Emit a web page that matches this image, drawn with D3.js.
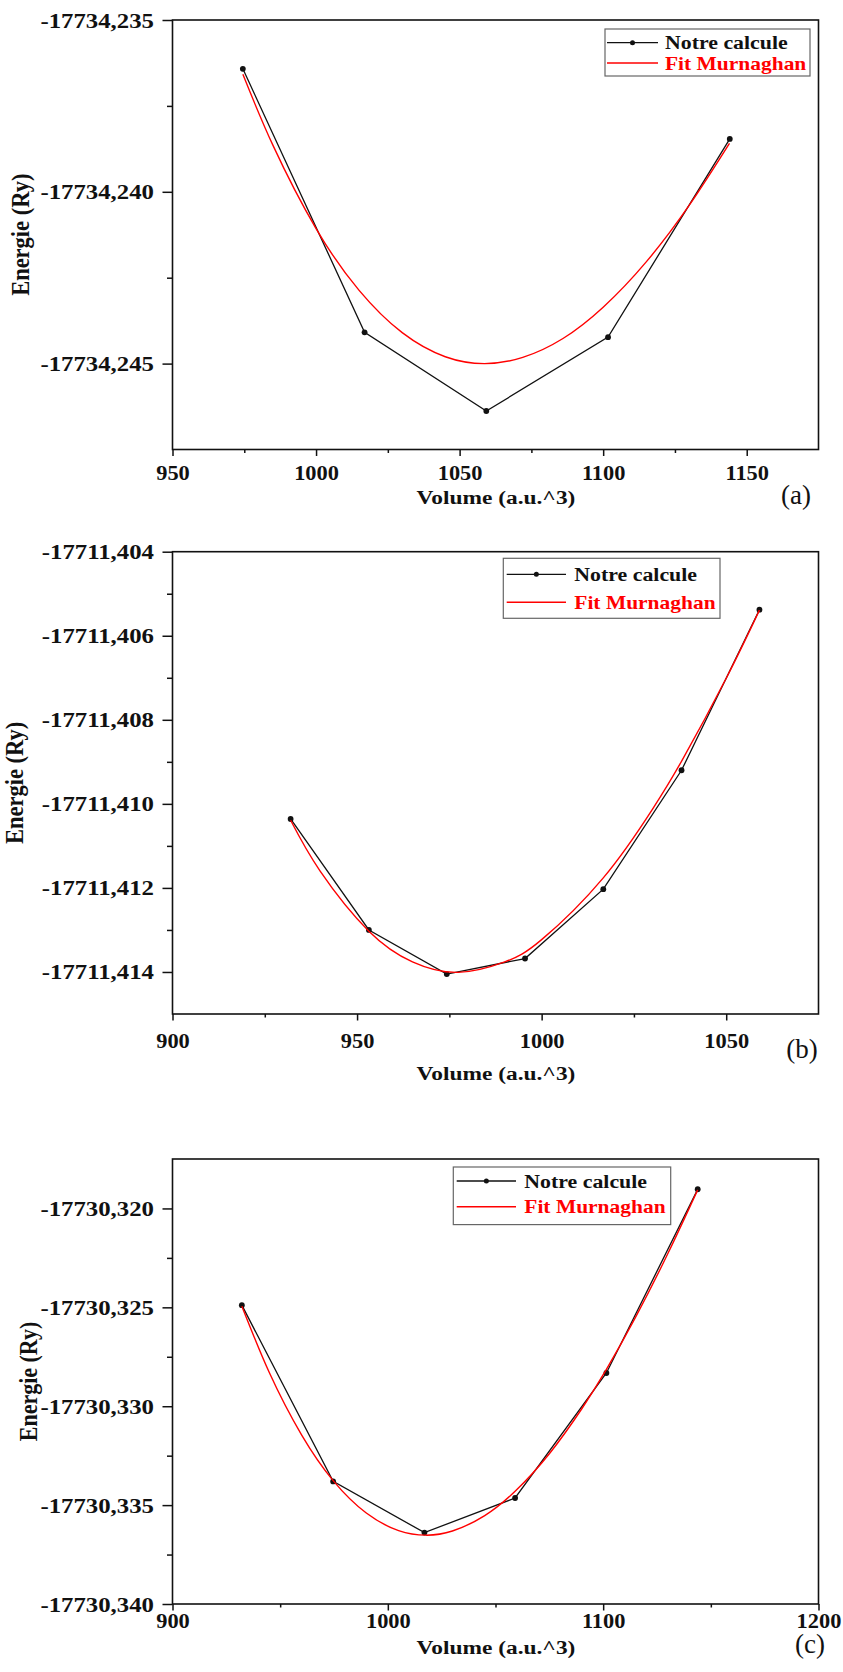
<!DOCTYPE html>
<html>
<head>
<meta charset="utf-8">
<script src="https://cdn.jsdelivr.net/npm/d3@7"></script>
<style>
  html, body { margin: 0; padding: 0; background: #fff; }
  svg { display: block; }
  text { font-family: "Liberation Serif", "Times New Roman", serif; }
</style>
</head>
<body>
<svg id="chart" width="843" height="1672"></svg>
<script>
// ---- Panel (a) ----
const volA = [974.5, 1016.9, 1059.3, 1101.7, 1144.1];
const energyA = [-17734.23642, -17734.24409, -17734.24638, -17734.24423, -17734.23846];
const fitVolA = [974.5, 985, 1000, 1015, 1030, 1045, 1058.7, 1072, 1086, 1100, 1115, 1130, 1144];
const fitEnergyA = [-17734.23658, -17734.23865, -17734.24107, -17734.24287, -17734.24410, -17734.24480,
  -17734.24500, -17734.24482, -17734.24427, -17734.24336, -17734.24204, -17734.24039, -17734.23859];
const xTicksA = [950, 1000, 1050, 1100, 1150];
const xMinorA = [975, 1025, 1075, 1125];
const yTicksA = [-17734.235, -17734.240, -17734.245];
const yMinorA = [-17734.2375, -17734.2425];

// ---- Panel (b) ----
const volB = [932.0, 953.2, 974.3, 995.5, 1016.7, 1037.9, 1059.0];
const energyB = [-17711.41036, -17711.41300, -17711.41405, -17711.41368, -17711.41203, -17711.40920, -17711.40538];
const fitVolB = [932, 940, 953.2, 965, 977.3, 990, 1000, 1016.7, 1030, 1038, 1050, 1059];
const fitEnergyB = [-17711.41039, -17711.41160, -17711.41303, -17711.41376, -17711.41401, -17711.41376,
  -17711.41323, -17711.41176, -17711.41013, -17711.40897, -17711.40701, -17711.40539];
const xTicksB = [900, 950, 1000, 1050];
const xMinorB = [925, 975, 1025];
const yTicksB = [-17711.404, -17711.406, -17711.408, -17711.410, -17711.412, -17711.414];
const yMinorB = [-17711.405, -17711.407, -17711.409, -17711.411, -17711.413];

// ---- Panel (c) ----
const volC = [932.2, 974.6, 1017.0, 1059.1, 1101.5, 1143.9];
const energyC = [-17730.32489, -17730.33380, -17730.33639, -17730.33464, -17730.32832, -17730.31903];
const fitVolC = [932.2, 945, 960, 974.6, 990, 1005, 1017.7, 1030, 1045, 1059.1, 1075, 1090, 1101.5, 1115, 1130, 1143.9];
const fitEnergyC = [-17730.32494, -17730.32831, -17730.33146, -17730.33376, -17730.33540, -17730.33629,
  -17730.33652, -17730.33631, -17730.33553, -17730.33430, -17730.33240, -17730.33014, -17730.32814,
  -17730.32551, -17730.32229, -17730.31906];
const xTicksC = [900, 1000, 1100, 1200];
const xMinorC = [950, 1050, 1150];
const yTicksC = [-17730.320, -17730.325, -17730.330, -17730.335, -17730.340];
const yMinorC = [-17730.3225, -17730.3275, -17730.3325, -17730.3375];

// ---- Shared labels ----
const seriesNames = ["Notre calcule", "Fit Murnaghan"];
const xTitle = "Volume (a.u.^3)";
const yTitle = "Energie (Ry)";
const panelTags = ["(a)", "(b)", "(c)"];

// Number format with a decimal comma and a plain hyphen for the minus sign
const fmtY = d3.formatLocale({ decimal: ",", thousands: "", grouping: [3], currency: ["", ""], minus: "-" }).format(".3f");

const svg = d3.select("#chart");

// Layout of each panel (pixel geometry lives here, not in the data)
const panels = [
  {
    vol: volA, energy: energyA, fitVol: fitVolA, fitEnergy: fitEnergyA,
    xTicks: xTicksA, xMinor: xMinorA, yTicks: yTicksA, yMinor: yMinorA,
    xDomain: [950, 1175], yDomain: [-17734.2475, -17734.235],
    left: 172.5, right: 818.5, top: 20, bottom: 449.5,
    xLabelDy: 23, titleY: 497, tagX: 796, tagY: 494.5,
    yTitleX: 20, yTitleSize: 22.5,
    legend: { x0: 605, x1: 810, y0: 29, y1: 76, row1: 42.7, row2: 63, lx0: 607, lx1: 658, tx: 665 }
  },
  {
    vol: volB, energy: energyB, fitVol: fitVolB, fitEnergy: fitEnergyB,
    xTicks: xTicksB, xMinor: xMinorB, yTicks: yTicksB, yMinor: yMinorB,
    xDomain: [900, 1075], yDomain: [-17711.415, -17711.404],
    left: 172.5, right: 818.5, top: 551.7, bottom: 1014,
    xLabelDy: 26.5, titleY: 1073, tagX: 802, tagY: 1048.5,
    yTitleX: 14, yTitleSize: 22.5,
    legend: { x0: 503.3, x1: 720, y0: 558.3, y1: 618.3, row1: 574.3, row2: 602.3, lx0: 506.7, lx1: 566, tx: 574.3 }
  },
  {
    vol: volC, energy: energyC, fitVol: fitVolC, fitEnergy: fitEnergyC,
    xTicks: xTicksC, xMinor: xMinorC, yTicks: yTicksC, yMinor: yMinorC,
    xDomain: [900, 1200], yDomain: [-17730.340, -17730.3175],
    left: 172.5, right: 818.5, top: 1159, bottom: 1604,
    xLabelDy: 16.5, titleY: 1647, tagX: 810, tagY: 1643.5,
    yTitleX: 29, yTitleSize: 22,
    legend: { x0: 453.3, x1: 670.7, y0: 1167, y1: 1224.6, row1: 1181, row2: 1206.7, lx0: 456.7, lx1: 516, tx: 524.3 }
  }
];

const INK = "#111";
const RED = "#ff0000";
const SERIF = "'Liberation Serif', 'Times New Roman', serif";

// Text stretched horizontally to the proportions used in the figure
function label(g, str, x, y, o) {
  return g.append("text")
    .attr("transform", `translate(${x},${y}) scale(${o.sx || 1},1)` + (o.rotate ? ` rotate(${o.rotate})` : ""))
    .attr("text-anchor", o.anchor || "middle")
    .attr("dy", "0.35em")
    .attr("font-size", o.size || 19)
    .attr("font-weight", o.weight || "bold")
    .attr("fill", o.fill || INK)
    .text(str);
}

panels.forEach((p, i) => {
  const g = svg.append("g");
  const x = d3.scaleLinear().domain(p.xDomain).range([p.left, p.right]);
  const y = d3.scaleLinear().domain(p.yDomain).range([p.bottom, p.top]);

  // Bottom axis: major and minor ticks
  const xAxis = g.append("g").attr("transform", `translate(0,${p.bottom})`)
    .call(d3.axisBottom(x).tickValues(p.xTicks).tickSize(6.5).tickFormat(d3.format("d")));
  g.append("g").attr("transform", `translate(0,${p.bottom})`)
    .call(d3.axisBottom(x).tickValues(p.xMinor).tickSize(3.5).tickFormat(""));

  // Left axis: major and minor ticks
  const yAxis = g.append("g").attr("transform", `translate(${p.left},0)`)
    .call(d3.axisLeft(y).tickValues(p.yTicks).tickSize(10).tickFormat(fmtY));
  g.append("g").attr("transform", `translate(${p.left},0)`)
    .call(d3.axisLeft(y).tickValues(p.yMinor).tickSize(5.5).tickFormat(""));

  g.selectAll(".domain").remove();
  g.selectAll(".tick line").attr("stroke", INK).attr("stroke-width", 1.5);

  xAxis.selectAll(".tick text")
    .attr("y", 0).attr("dy", "0.35em")
    .attr("transform", `translate(0,${p.xLabelDy}) scale(1.12,1)`)
    .attr("font-family", SERIF)
    .attr("font-size", 20).attr("font-weight", "bold").attr("fill", INK);

  yAxis.selectAll(".tick text")
    .attr("x", 0).attr("dy", "0.35em")
    .attr("transform", "translate(-18.5,0) scale(1.24,1)")
    .attr("font-family", SERIF)
    .attr("font-size", 20).attr("font-weight", "bold").attr("fill", INK);

  // Frame
  g.append("rect")
    .attr("x", p.left).attr("y", p.top)
    .attr("width", p.right - p.left).attr("height", p.bottom - p.top)
    .attr("fill", "none").attr("stroke", INK).attr("stroke-width", 1.6);

  // Computed energies: polyline with dots
  const pts = p.vol.map((v, k) => [v, p.energy[k]]);
  g.append("path")
    .attr("d", d3.line().x(d => x(d[0])).y(d => y(d[1]))(pts))
    .attr("fill", "none").attr("stroke", INK).attr("stroke-width", 1.3);
  g.selectAll(".pt").data(pts).join("circle")
    .attr("cx", d => x(d[0])).attr("cy", d => y(d[1])).attr("r", 2.9).attr("fill", INK);

  // Murnaghan fit
  const fit = p.fitVol.map((v, k) => [v, p.fitEnergy[k]]);
  g.append("path")
    .attr("d", d3.line().curve(d3.curveNatural).x(d => x(d[0])).y(d => y(d[1]))(fit))
    .attr("fill", "none").attr("stroke", RED).attr("stroke-width", 1.4);

  // Axis titles and panel tag
  label(g, xTitle, (p.left + p.right) / 2 + 0.5, p.titleY, { sx: 1.2, size: 19.5 });
  label(g, yTitle, p.yTitleX, (p.top + p.bottom) / 2, { sx: 1.1, rotate: -90, size: p.yTitleSize });
  label(g, panelTags[i], p.tagX, p.tagY, { size: 27, weight: "normal" });

  // Legend
  const L = p.legend;
  g.append("rect")
    .attr("x", L.x0).attr("y", L.y0).attr("width", L.x1 - L.x0).attr("height", L.y1 - L.y0)
    .attr("fill", "#fff").attr("stroke", "#666").attr("stroke-width", 1.2);
  g.append("line").attr("x1", L.lx0).attr("x2", L.lx1).attr("y1", L.row1).attr("y2", L.row1)
    .attr("stroke", INK).attr("stroke-width", 1.3);
  g.append("circle").attr("cx", (L.lx0 + L.lx1) / 2).attr("cy", L.row1).attr("r", 2.5).attr("fill", INK);
  g.append("line").attr("x1", L.lx0).attr("x2", L.lx1).attr("y1", L.row2).attr("y2", L.row2)
    .attr("stroke", RED).attr("stroke-width", 1.4);
  label(g, seriesNames[0], L.tx, L.row1, { anchor: "start", sx: 1.15 });
  label(g, seriesNames[1], L.tx, L.row2, { anchor: "start", sx: 1.13, fill: RED });
});
</script>
</body>
</html>
